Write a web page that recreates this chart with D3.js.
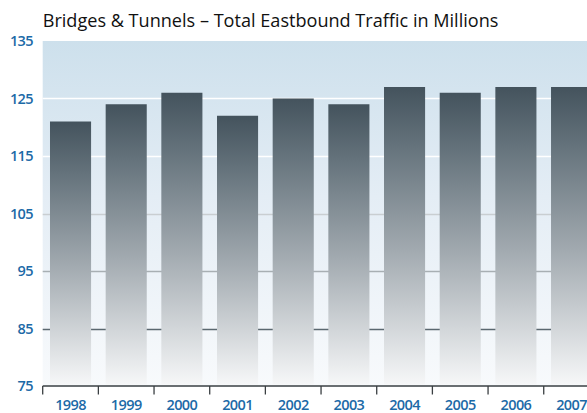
<!DOCTYPE html>
<html>
<head>
<meta charset="utf-8">
<script src="https://cdn.jsdelivr.net/npm/d3@7"></script>
<style>
  html, body { margin: 0; padding: 0; background: #fff; overflow: hidden; }
  svg { display: block; }
</style>
</head>
<body>
<svg id="chart" width="587" height="413"></svg>
<script>
// Eastbound bridge & tunnel traffic, millions of vehicles
const years = ["1998", "1999", "2000", "2001", "2002", "2003", "2004", "2005", "2006", "2007"];
const traffic = [121, 124, 126, 122, 125, 124, 127, 126, 127, 127];
const yTicks = [75, 85, 95, 105, 115, 125, 135];
const gridColors = ["#5b6870", "#5b6870", "#a8afb3", "#c9ced1", "#ffffff", "#ffffff", "#ffffff"];

const svg = d3.select("#chart");
const plotLeft = 42.7, plotRight = 599.4, plotTop = 41, plotBottom = 386;

const x = d3.scaleBand().domain(years).range([plotLeft, plotRight]).paddingInner(0.262).paddingOuter(0.131);
const y = d3.scaleLinear().domain([75, 135]).range([plotBottom, plotTop]);

const defs = svg.append("defs");
const bg = defs.append("linearGradient").attr("id", "bgGrad").attr("x1", 0).attr("y1", 0).attr("x2", 0).attr("y2", 1);
bg.append("stop").attr("offset", "0%").attr("stop-color", "#cde0ec");
bg.append("stop").attr("offset", "45%").attr("stop-color", "#e4edf5");
bg.append("stop").attr("offset", "100%").attr("stop-color", "#f8fafc");

const barGrad = defs.append("linearGradient").attr("id", "barGrad").attr("x1", 0).attr("y1", 0).attr("x2", 0).attr("y2", 1);
barGrad.append("stop").attr("offset", "0%").attr("stop-color", "#44535d");
barGrad.append("stop").attr("offset", "20%").attr("stop-color", "#65737c");
barGrad.append("stop").attr("offset", "55%").attr("stop-color", "#a2aab0");
barGrad.append("stop").attr("offset", "100%").attr("stop-color", "#f6f7f8");

// plot background
svg.append("rect")
  .attr("x", plotLeft).attr("y", plotTop)
  .attr("width", plotRight - plotLeft).attr("height", plotBottom - plotTop)
  .attr("fill", "url(#bgGrad)");

// horizontal grid lines
svg.append("g").selectAll("line")
  .data(yTicks.slice(1, -1))
  .join("line")
  .attr("x1", plotLeft).attr("x2", plotRight)
  .attr("y1", d => Math.round(y(d)) + 0.5).attr("y2", d => Math.round(y(d)) + 0.5)
  .attr("stroke", (d, i) => gridColors[i + 1])
  .attr("stroke-width", 1.3);

// bars
svg.append("g").selectAll("rect")
  .data(years.map((yr, i) => ({ yr, v: traffic[i] })))
  .join("rect")
  .attr("x", d => x(d.yr))
  .attr("y", d => y(d.v))
  .attr("width", x.bandwidth())
  .attr("height", d => plotBottom - 1.5 - y(d.v))
  .attr("fill", "url(#barGrad)");

// y axis labels
svg.append("g").selectAll("text")
  .data(yTicks)
  .join("text")
  .attr("x", 33)
  .attr("y", d => y(d))
  .attr("dy", "0.36em")
  .attr("text-anchor", "end")
  .attr("font-family", "'Open Sans', 'Noto Sans', sans-serif")
  .attr("font-size", 14.5)
  .attr("font-weight", 600)
  .attr("letter-spacing", -0.6)
  .attr("fill", "#1c6aa7")
  .text(d => d);

// x axis
const xAxis = svg.append("g").attr("transform", `translate(0,${plotBottom})`);
xAxis.append("line")
  .attr("x1", plotLeft).attr("x2", plotRight)
  .attr("y1", 0).attr("y2", 0)
  .attr("stroke", "#6a6f72").attr("stroke-width", 2);
const boundaries = years.map(yr => x(yr) - x.step() * x.paddingInner() / 2);
boundaries.push(plotRight);
xAxis.selectAll("line.tick")
  .data(boundaries)
  .join("line")
  .attr("class", "tick")
  .attr("x1", d => d).attr("x2", d => d)
  .attr("y1", 0).attr("y2", 8.5)
  .attr("stroke", "#3a3f42").attr("stroke-width", 1.3);
xAxis.selectAll("text")
  .data(years)
  .join("text")
  .attr("x", d => x(d) + x.bandwidth() / 2)
  .attr("y", 23.5)
  .attr("text-anchor", "middle")
  .attr("font-family", "'Open Sans', 'Noto Sans', sans-serif")
  .attr("font-size", 14.5)
  .attr("font-weight", 600)
  .attr("letter-spacing", -0.6)
  .attr("fill", "#1c6aa7")
  .text(d => d);

// title, sized so it spans from the plot's left edge to x≈499
const title = svg.append("text")
  .attr("x", plotLeft)
  .attr("y", 27)
  .attr("font-family", "'Open Sans', 'Noto Sans', sans-serif")
  .attr("font-size", 17)
  .attr("fill", "#111")
  .text("Bridges & Tunnels – Total Eastbound Traffic in Millions");
const natural = title.node().getComputedTextLength();
if (natural > 0) title.attr("font-size", 17 * 456 / natural);
</script>
</body>
</html>
